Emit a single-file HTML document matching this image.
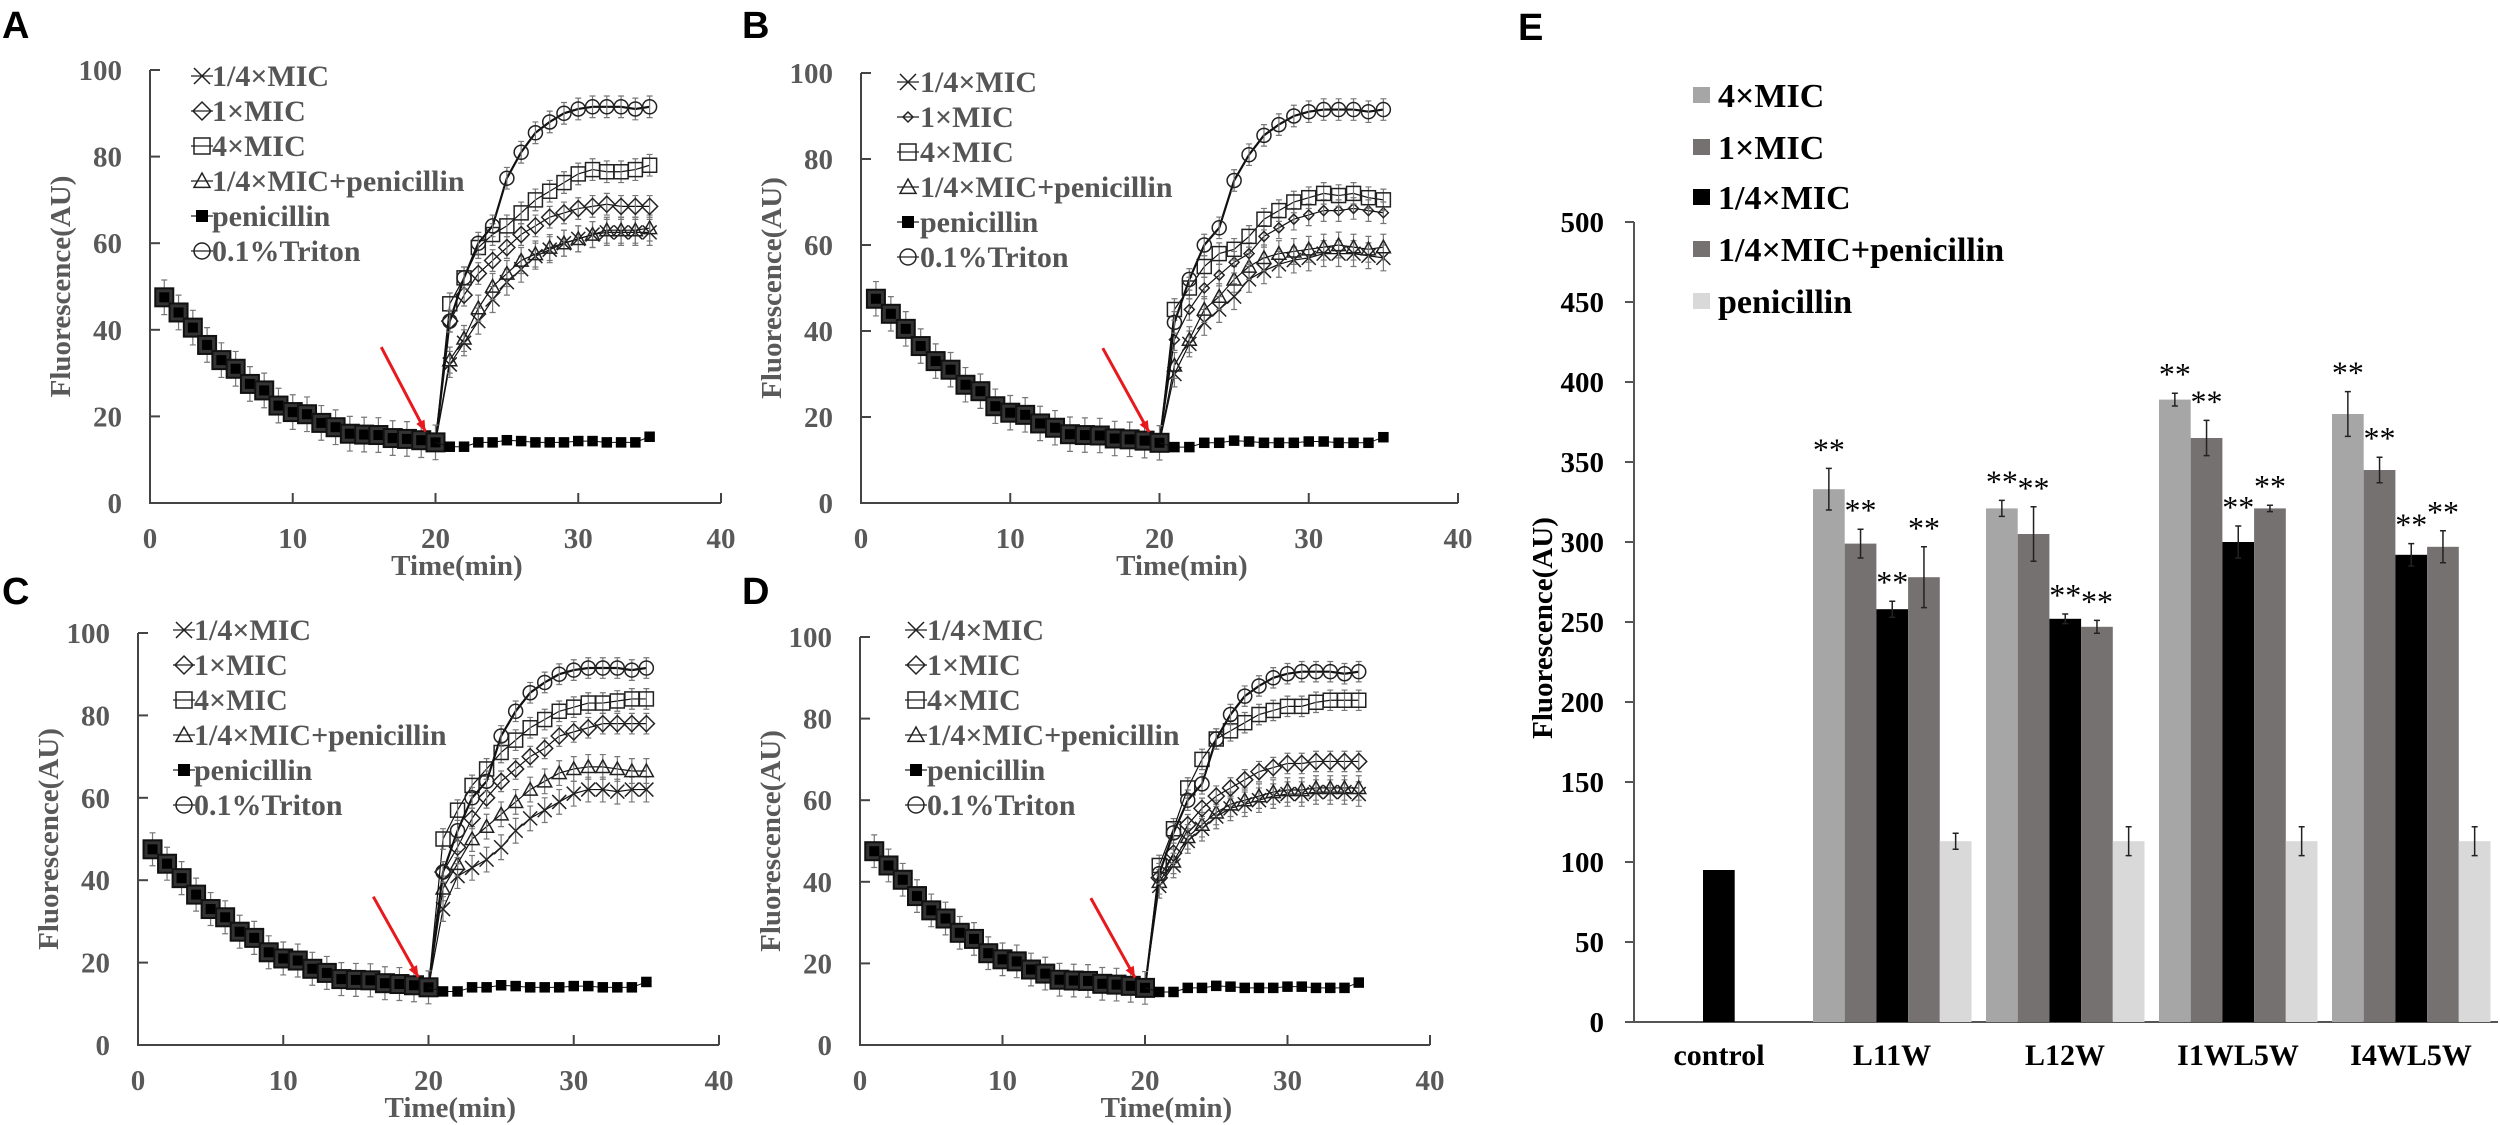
<!DOCTYPE html>
<html><head><meta charset="utf-8">
<style>
html,body{margin:0;padding:0;background:#fff;}
svg{display:block;}
.t{font-family:"Liberation Serif",serif;font-weight:bold;}
.pl{font-family:"Liberation Sans",sans-serif;font-weight:bold;font-size:38px;fill:#000;}
</style></head>
<body>
<svg id="s" width="2500" height="1125" viewBox="0 0 2500 1125" xmlns="http://www.w3.org/2000/svg">
<text class="pl" x="2" y="38">A</text>
<text class="pl" x="742" y="38">B</text>
<text class="pl" x="2" y="604">C</text>
<text class="pl" x="742" y="604">D</text>
<text class="pl" x="1518" y="40">E</text>
</svg>
<script>
var S=document.getElementById('s');var NS='http://www.w3.org/2000/svg';
function el(n,a,txt){var e=document.createElementNS(NS,n);for(var k in a)e.setAttribute(k,a[k]);if(txt!=null)e.textContent=txt;S.appendChild(e);return e;}
var decay=[47.5,44,40.5,36.5,33,31,27.5,26,22.5,21,20.5,18.5,17.5,16,15.8,15.7,15,14.8,14.5,14];
var pen=[13,13,14,14,14.5,14.3,14,14,14,14.3,14.3,14,14,14,15.3];
var tri=[42,52,60,64,75,81,85.5,88,90,91,91.5,91.5,91.5,91,91.5];
var P=[
{ox:150,x40:721,y0:503,y100:70,lx:52,lt:62,ly:76,dsmall:false,
 s:{m4:[46,52,59,62,64,67,70,72,74,76,77,76.5,76.5,77,78],m1:[42,48,53,56,59,62,64,66,67,68,68.5,69,68.5,68.5,68.5],cb:[33,38,45,50,53,56,57.5,59,60,61,62,63,63,63,63.5],q:[32,37,42,47,51,54,57,58.5,60,61,62,62.5,62.5,62.5,62.5]}},
{ox:861,x40:1458,y0:503,y100:73,lx:47,lt:59,ly:82,dsmall:true,
 s:{m4:[45,50,55,58,59,62,66,68,70,71,72,71.5,72,71,70.5],m1:[38,45,50,53,56,58,62,64,66,67,68,68,68.5,68,67.5],cb:[32,38,45,48,52,55,57,58,58.5,59,59.5,60,59.5,59,59.5],q:[30,37,42,45,48,52,54,55.5,56.5,57,58,58,58,57.5,57]}},
{ox:138,x40:719,y0:1045,y100:633,lx:46,lt:56,ly:630,dsmall:false,
 s:{m4:[50,57,63,67,71,74,77,79,81,82,83,83,83.5,84,84],m1:[42,48,55,60,64,67,70,72,75,76,77,78,78,78,78],cb:[38,44,50,53,56,59,62,64,66,67,67.5,67.5,67,66.5,66.5],q:[33,41,43,45,48,52,55,57,59,61,62,62,61.5,62,62]}},
{ox:860,x40:1430,y0:1045,y100:637,lx:56,lt:67,ly:630,dsmall:false,
 s:{m4:[44,53,63,70,75,77,79,81,82,83,83,84,84.5,84.5,84.5],m1:[41,47,54,58,61,63,65,67,68,69,69,69.5,69.5,69.5,69.5],cb:[40,45,51,54,57,59,60,61,62,62.5,62.5,63,63,63,63],q:[39,44,50,53,56,58,59,60,61,61.5,61.5,62,62,62,61.5]}}
];
function marker(type,x,y,r,small){
 var st={fill:'none',stroke:'#222','stroke-width':1.5};
 if(type=='sq'){el('rect',{x:x-r,y:y-r,width:2*r,height:2*r,fill:'none',stroke:'#222','stroke-width':1.5});}
 else if(type=='ci'){el('circle',{cx:x,cy:y,r:r,fill:'none',stroke:'#222','stroke-width':1.5});}
 else if(type=='di'){var d=small?5:r+1;el('path',{d:'M'+x+' '+(y-d)+'L'+(x+d)+' '+y+'L'+x+' '+(y+d)+'L'+(x-d)+' '+y+'Z',fill:'none',stroke:'#222','stroke-width':1.5});}
 else if(type=='tr'){el('path',{d:'M'+x+' '+(y-r)+'L'+(x+r)+' '+(y+r*0.8)+'L'+(x-r)+' '+(y+r*0.8)+'Z',fill:'none',stroke:'#222','stroke-width':1.5});}
 else if(type=='x'){el('path',{d:'M'+(x-r)+' '+(y-r)+'L'+(x+r)+' '+(y+r)+'M'+(x-r)+' '+(y+r)+'L'+(x+r)+' '+(y-r),stroke:'#222','stroke-width':1.5});}
 else if(type=='fs'){el('rect',{x:x-r*0.75,y:y-r*0.75,width:r*1.5,height:r*1.5,fill:'#000'});}
}
P.forEach(function(p){
 var sx=(p.x40-p.ox)/40, sy=(p.y0-p.y100)/100;
 function X(t){return p.ox+t*sx;} function Y(v){return p.y0-v*sy;}
 // axes
 el('path',{d:'M'+p.ox+' '+Y(100)+'V'+p.y0+'H'+p.x40,fill:'none',stroke:'#444','stroke-width':2});
 for(var v=0;v<=100;v+=20){el('line',{x1:p.ox,x2:p.ox+10,y1:Y(v),y2:Y(v),stroke:'#444','stroke-width':2});
  el('text',{class:'t',x:p.ox-28,y:Y(v)+10,'text-anchor':'end','font-size':29,fill:'#595959'},String(v));}
 for(var t=0;t<=40;t+=10){el('line',{x1:X(t),x2:X(t),y1:p.y0,y2:p.y0-10,stroke:'#444','stroke-width':2});
  el('text',{class:'t',x:X(t),y:p.y0+45,'text-anchor':'middle','font-size':29,fill:'#595959'},String(t));}
 el('text',{class:'t',x:X(21.5),y:p.y0+72,'text-anchor':'middle','font-size':29,fill:'#595959'},'Time(min)');
 var ty=(p.y0+Y(100))/2;
 el('text',{class:'t',x:0,y:0,'text-anchor':'middle','font-size':29,fill:'#595959',transform:'translate('+(p.ox-80)+','+ty+') rotate(-90)'},'Fluorescence(AU)');
 // series
 var ser=[['x',p.s.q,1.2],['tr',p.s.cb,1.2],['di',p.s.m1,1.2],['sq',p.s.m4,1.2],['ci',tri,2.2]];
 ser.forEach(function(s){
  var pts=[];for(var i=0;i<20;i++)pts.push([X(i+1),Y(decay[i])]);
  for(var i=0;i<15;i++)pts.push([X(21+i),Y(s[1][i])]);
  el('polyline',{points:pts.map(function(a){return a.join(',')}).join(' '),fill:'none',stroke:'#111','stroke-width':s[2]});
  for(var i=0;i<15;i++){var e=(s[0]=='ci'?2.5:(s[0]=='tr'||s[0]=='x'?3:2.5));
   el('path',{d:'M'+X(21+i)+' '+Y(s[1][i]+e)+'V'+Y(s[1][i]-e)+'M'+(X(21+i)-3)+' '+Y(s[1][i]+e)+'h6M'+(X(21+i)-3)+' '+Y(s[1][i]-e)+'h6',stroke:'#777','stroke-width':1.2});
   marker(s[0],X(21+i),Y(s[1][i]),7,p.dsmall&&s[0]=='di');}
 });
 // decay region markers
 for(var i=0;i<20;i++){var x=X(i+1),y=Y(decay[i]);
  el('path',{d:'M'+x+' '+Y(decay[i]+4)+'V'+Y(decay[i]-4)+'M'+(x-3)+' '+Y(decay[i]+4)+'h6M'+(x-3)+' '+Y(decay[i]-4)+'h6',stroke:'#777','stroke-width':1.2});
  el('rect',{x:x-9,y:y-9,width:18,height:18,fill:'#333',stroke:'#111','stroke-width':2});
  el('rect',{x:x-5,y:y-5,width:10,height:10,fill:'#000'});}
 var pp=[];pp.push([X(20),Y(decay[19])]);for(var i=0;i<15;i++)pp.push([X(21+i),Y(pen[i])]);
 el('polyline',{points:pp.map(function(a){return a.join(',')}).join(' '),fill:'none',stroke:'#111','stroke-width':1});
 for(var i=0;i<15;i++)marker('fs',X(21+i),Y(pen[i]),7);
 // arrow
 var ax1=X(16.2),ay1=Y(36),ax2=X(19.3),ay2=Y(16.5);
 el('line',{x1:ax1,y1:ay1,x2:ax2,y2:ay2,stroke:'#e8191c','stroke-width':3});
 var ang=Math.atan2(ay2-ay1,ax2-ax1),L=12,w=0.4;
 el('path',{d:'M'+ax2+' '+ay2+'L'+(ax2-L*Math.cos(ang-w))+' '+(ay2-L*Math.sin(ang-w))+'L'+(ax2-L*Math.cos(ang+w))+' '+(ay2-L*Math.sin(ang+w))+'Z',fill:'#e8191c'});
 // legend
 var labs=['1/4×MIC','1×MIC','4×MIC','1/4×MIC+penicillin','penicillin','0.1%Triton'];
 var mk=['x','di','sq','tr','fs','ci'];
 for(var i=0;i<6;i++){var ly=p.ly+i*35,lx=p.ox+p.lx;
  el('line',{x1:lx-11,x2:lx+11,y1:ly,y2:ly,stroke:'#222','stroke-width':1.3});
  marker(mk[i],lx,ly,8,p.dsmall&&mk[i]=='di');
  el('text',{class:'t',x:p.ox+p.lt,y:ly+10,'font-size':30,fill:'#555'},labs[i]);}
});
// Panel E
(function(){
 var ox=1634,y0=1022,k=1.6;function Y(v){return y0-v*k;}
 el('path',{d:'M'+ox+' '+Y(500)+'V'+y0+'H2498',fill:'none',stroke:'#555','stroke-width':2});
 for(var v=0;v<=500;v+=50){el('line',{x1:ox-9,x2:ox,y1:Y(v),y2:Y(v),stroke:'#555','stroke-width':2});
  el('text',{class:'t',x:1604,y:Y(v)+10,'text-anchor':'end','font-size':29,fill:'#000'},String(v));}
 el('text',{class:'t',x:0,y:0,'text-anchor':'middle','font-size':29,fill:'#000',transform:'translate(1552,628) rotate(-90)'},'Fluorescence(AU)');
 var cols=['#a6a6a6','#767171','#000','#767171','#d9d9d9'];
 var data=[[[333,13],[299,9],[258,5],[278,19],[113,5]],[[321,5],[305,17],[252,3],[247,4],[113,9]],[[389,4],[365,11],[300,10],[321,2],[113,9]],[[380,14],[345,8],[292,7],[297,10],[113,9]]];
 var names=['control','L11W','L12W','I1WL5W','I4WL5W'];var bw=31.7;
 el('rect',{x:1703,y:Y(95),width:bw,height:95*k,fill:'#000'});
 for(var g=0;g<5;g++)el('text',{class:'t',x:1640+g*173+79,y:1065,'text-anchor':'middle','font-size':30,fill:'#000'},names[g]);
 data.forEach(function(grp,gi){var gx=1813+gi*173;
  grp.forEach(function(d,b){var x=gx+b*bw;
   el('rect',{x:x,y:Y(d[0]),width:bw,height:d[0]*k,fill:cols[b]});
   var cx=x+bw/2,t=Y(d[0]+d[1]),bo=Y(d[0]-d[1]);
   el('path',{d:'M'+cx+' '+t+'V'+bo+'M'+(cx-3)+' '+t+'h6M'+(cx-3)+' '+bo+'h6',stroke:'#222','stroke-width':1.5});
   if(b<4)el('text',{x:cx,y:t-8,'text-anchor':'middle','font-size':32,fill:'#000','font-family':'Liberation Serif, serif'},'**');
  });});
 var ll=['4×MIC','1×MIC','1/4×MIC','1/4×MIC+penicillin','penicillin'];var ry=[95,147,197,249,301];
 for(var i=0;i<5;i++){el('rect',{x:1693,y:ry[i]-8,width:17,height:16,fill:cols[i]});
  el('text',{class:'t',x:1718,y:ry[i]+12,'font-size':34,fill:'#000'},ll[i]);}
})();
</script>
</body></html>
